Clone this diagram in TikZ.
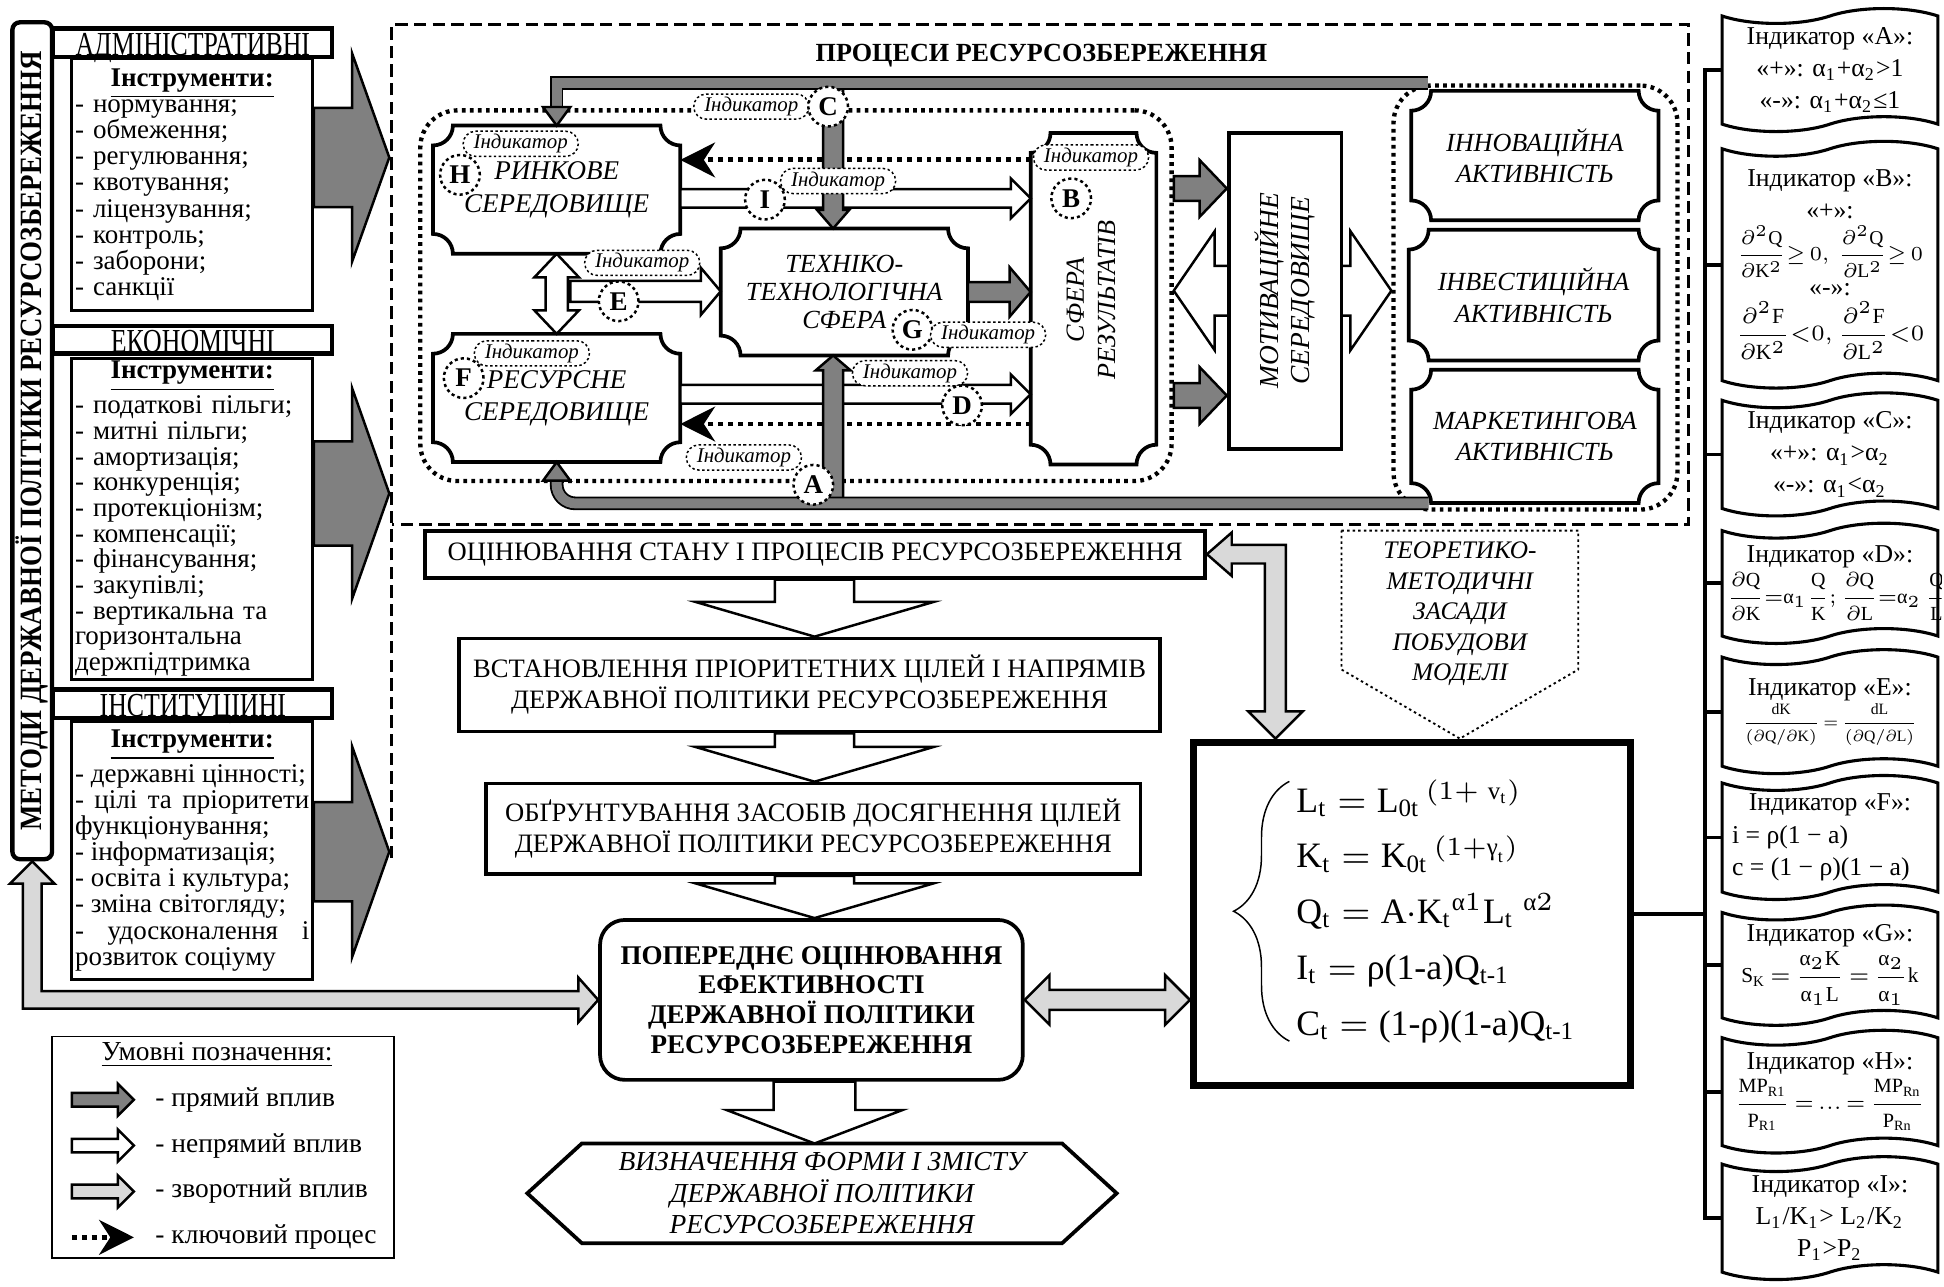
\documentclass[tikz,border=0pt]{standalone}
\usepackage{fontspec}
\usepackage{amsmath}
\usepackage{graphicx}
\setmainfont{Liberation Serif}
\newfontfamily\hdrfont[FakeStretch=0.77]{Liberation Serif}
\newfontfamily\condfont[FakeStretch=0.87]{Liberation Serif}
\usetikzlibrary{calc,arrows.meta,shapes.symbols,shapes.misc,decorations.pathreplacing}
\pgfdeclarelayer{background}
\pgfsetlayers{background,main}
\definecolor{directgray}{gray}{0.5}
\definecolor{feedgray}{gray}{0.85}
\newcommand{\fsz}[2]{\fontsize{#1}{#2}\selectfont}
\newcommand{\al}{\text{α}}
\newcommand{\fitw}[2]{\resizebox{#1}{!}{#2}}
% outline with concave corners round a named node
\newcommand{\plaque}[1]{
  \draw[plaqueline] let \p1=(#1.north west), \p2=(#1.south east) in
    (\x1,\y1-1.6mm) arc[start angle=-90,end angle=0,radius=1.6mm]
    -- (\x2-1.6mm,\y1) arc[start angle=180,end angle=270,radius=1.6mm]
    -- (\x2,\y2+1.6mm) arc[start angle=90,end angle=180,radius=1.6mm]
    -- (\x1+1.6mm,\y2) arc[start angle=0,end angle=90,radius=1.6mm] -- cycle;
}
% block arrow: [style]{from}{tip}{shaft half width}{head half width}{head length}
\newcommand{\blockarrow}[6][]{
  \coordinate (ba-s) at (#2);
  \coordinate (ba-e) at (#3);
  \coordinate (ba-h) at ($(ba-e)!#6!(ba-s)$);
  \draw[#1] ($(ba-s)!#4!90:(ba-e)$) -- ($(ba-h)!#4!-90:(ba-s)$) -- ($(ba-h)!#5!-90:(ba-s)$)
    -- (ba-e) -- ($(ba-h)!#5!90:(ba-s)$) -- ($(ba-h)!#4!90:(ba-s)$) -- ($(ba-s)!#4!-90:(ba-e)$) -- cycle;
}
\newcommand{\dblarrow}[6][]{
  \coordinate (da-a) at (#2);
  \coordinate (da-b) at (#3);
  \coordinate (da-ha) at ($(da-a)!#6!(da-b)$);
  \coordinate (da-hb) at ($(da-b)!#6!(da-a)$);
  \draw[#1] (da-a) -- ($(da-ha)!#5!90:(da-b)$) -- ($(da-ha)!#4!90:(da-b)$) -- ($(da-hb)!#4!-90:(da-a)$)
    -- ($(da-hb)!#5!-90:(da-a)$) -- (da-b) -- ($(da-hb)!#5!90:(da-a)$) -- ($(da-hb)!#4!90:(da-a)$)
    -- ($(da-ha)!#4!-90:(da-b)$) -- ($(da-ha)!#5!-90:(da-b)$) -- cycle;
}

\begin{document}
\begin{tikzpicture}[x=0.1mm,y=-0.1mm,
  plaqueline/.style={line width=0.3mm},
  plaquetext/.style={font=\itshape\fsz{6}{7.2},align=center,inner sep=0},
  listbox/.style={draw,line width=0.25mm,fill=white,text width=18.9mm,inner xsep=0.25mm,inner ysep=0.25mm,align=left,font=\fsz{6.2}{6}},
  hdrbox/.style={draw,line width=0.35mm,fill=white,minimum width=22.5mm,inner sep=0,text height=5.8pt,text depth=0pt,font=\hdrfont\fsz{7.7}{8}},
  darrow/.style={draw,line width=0.2mm,fill=directgray},
  warrow/.style={draw,line width=0.2mm,fill=white},
  farrow/.style={draw,line width=0.2mm,fill=feedgray},
  gframe/.style={draw=black,line width=0.15mm,double=directgray,double distance=0.8mm}]
\tikzstyle{keyline}=[line width=0.4mm,dash pattern=on 0.4mm off 0.4mm,-{Stealth[length=2.8mm,width=2.8mm,inset=0.9mm]}]
\tikzstyle{dotregion}=[draw,line width=0.35mm,dash pattern=on 0.3mm off 0.35mm,rounded corners=3mm]
\tikzstyle{circlbl}=[circle,draw,line width=0.2mm,dash pattern=on 0.25mm off 0.25mm,fill=white,minimum size=3.2mm,inner sep=0,font=\bfseries\fsz{6.2}{6.2}]
\tikzstyle{indlbl}=[rounded rectangle,draw,line width=0.12mm,dash pattern=on 0.2mm off 0.2mm,fill=white,inner xsep=0.5mm,inner ysep=0.25mm,font=\itshape\fsz{4.8}{5}]
\tikzstyle{flowbox}=[draw,line width=0.3mm,fill=white,align=center,inner sep=0,font=\fsz{6.1}{7.1}]
\tikzstyle{indbox}=[tape,draw,line width=0.25mm,fill=white,minimum width=17.4mm,tape bend height=1.2mm,align=center,inner sep=0.3mm,font=\fsz{5.9}{7.4}]
\useasboundingbox (0,0) rectangle (1568,1038);

% methods column
\node[draw,line width=0.35mm,rounded corners=0.6mm,minimum width=3.2mm,minimum height=67.5mm] (metody) at (26,355.5) {};
\node[rotate=90,font=\condfont\bfseries\fsz{7.1}{7}] (metodytitle) at (metody) {МЕТОДИ ДЕРЖАВНОЇ ПОЛІТИКИ РЕСУРСОЗБЕРЕЖЕННЯ};
\node[listbox,minimum height=20.3mm] (admlist) at (155,149) {{\centering\textbf{\underline{Інструменти:}}\par}- нормування;\\- обмеження;\\- регулювання;\\- квотування;\\- ліцензування;\\- контроль;\\- заборони;\\- санкції};
\node[listbox,minimum height=25.7mm,font=\fsz{6.2}{5.9}] (econlist) at (155,418.5) {{\centering\textbf{\underline{Інструменти:}}\par}- податкові пільги;\\- митні пільги;\\- амортизація;\\- конкуренція;\\- протекціонізм;\\- компенсації;\\- фінансування;\\- закупівлі;\\- вертикальна та\\горизонтальна\\держпідтримка};
\node[listbox,align=justify,minimum height=20.8mm] (instlist) at (155,686) {{\centering\textbf{\underline{Інструменти:}}\par}- державні цінності;\\- цілі та пріоритети\linebreak функціонування;\\- інформатизація;\\- освіта і культура;\\- зміна світогляду;\\- удосконалення і\linebreak розвиток соціуму};
\node[hdrbox,minimum height=2.3mm] (adm) at (155.5,34.5) {АДМІНІСТРАТИВНІ};
\node[hdrbox,minimum height=2.2mm] (econ) at (155.5,274) {ЕКОНОМІЧНІ};
\node[hdrbox,minimum height=2.3mm] (inst) at (155.5,567.5) {ІНСТИТУЦІЙНІ};

\coordinate (g1) at (314,127);
\coordinate (g2) at (314,398);
\coordinate (g3) at (314,687);
\blockarrow[darrow]{admlist.east |- g1}{g1}{4mm}{8.4mm}{3mm}
\blockarrow[darrow]{econlist.east |- g2}{g2}{4.2mm}{8.5mm}{3mm}
\blockarrow[darrow]{instlist.east |- g3}{g3}{4mm}{8.5mm}{3mm}

% resource saving processes
\draw[line width=0.22mm,dash pattern=on 1mm off 0.5mm] (316,692) -- (316,20) -- (1362,20) -- (1362,423) -- (316,423);
\node[font=\bfseries\fsz{6}{6}] (procesy) at (840,45) {ПРОЦЕСИ РЕСУРСОЗБЕРЕЖЕННЯ};
\node[dotregion,minimum width=60.6mm,minimum height=29.9mm] (sfery) at (642,238.5) {};
\node[dotregion,minimum width=22.9mm,minimum height=34.2mm] (aktivnist) at (1238.5,240) {};

\node[plaquetext,font=\itshape\fsz{6.2}{7.4},minimum width=19.8mm,minimum height=10.2mm] (rynok) at (449,153) {РИНКОВЕ\\СЕРЕДОВИЩЕ};
\node[plaquetext,font=\itshape\fsz{6.2}{7.4},minimum width=19.8mm,minimum height=10.2mm] (resursne) at (449,321) {РЕСУРСНЕ\\СЕРЕДОВИЩЕ};
\node[plaquetext,font=\itshape\fsz{6}{6.4},minimum width=19.8mm,minimum height=10.1mm] (tekhno) at (681,235.5) {ТЕХНІКО-\\ТЕХНОЛОГІЧНА\\СФЕРА};
\node[minimum width=10mm,minimum height=26.6mm] (sfera) at (882,241) {};
\node[plaquetext,rotate=90] (sferatext) at (880,242) {СФЕРА\\РЕЗУЛЬТАТІВ};
\node[plaquetext,minimum width=19.8mm,minimum height=10.3mm] (aktiv1) at (1238,125.5) {ІННОВАЦІЙНА\\АКТИВНІСТЬ};
\node[plaquetext,minimum width=20mm,minimum height=10.4mm] (aktiv2) at (1237,238) {ІНВЕСТИЦІЙНА\\АКТИВНІСТЬ};
\node[plaquetext,minimum width=19.8mm,minimum height=10.6mm] (aktiv3) at (1238,352) {МАРКЕТИНГОВА\\АКТИВНІСТЬ};
\foreach \pname in {rynok,resursne,tekhno,sfera,aktiv1,aktiv2,aktiv3} {
  \plaque{\pname}
}

\coordinate (ky1) at (0,129);
\coordinate (ky2) at (0,342);
\coordinate (iy) at (0,160);
\coordinate (dy) at (0,318);
\coordinate (ey) at (460,235);
\draw[keyline] (sfera.west |- ky1) -- (rynok.east |- ky1);
\draw[keyline] (sfera.west |- ky2) -- (resursne.east |- ky2);
\blockarrow[warrow]{rynok.east |- iy}{sfera.west |- iy}{0.75mm}{1.6mm}{1.6mm}
\blockarrow[warrow]{resursne.east |- dy}{sfera.west |- dy}{0.75mm}{1.6mm}{1.6mm}
\dblarrow[warrow]{rynok.south}{resursne.north}{0.9mm}{1.8mm}{1.9mm}
\blockarrow[warrow]{ey}{tekhno.west |- ey}{0.85mm}{1.9mm}{1.6mm}

\coordinate (cx) at (672,0);
\coordinate (topbar) at (1152,67);
\coordinate (botbar) at (1152,406);
\blockarrow[darrow]{cx |- topbar}{cx |- tekhno.north}{0.8mm}{1.3mm}{1.5mm}
\blockarrow[darrow]{cx |- botbar}{cx |- tekhno.south}{0.8mm}{1.4mm}{1.2mm}
\draw[gframe] (topbar) -- (topbar -| rynok.north) -- ($(rynok.north)+(0,-13)$);
\draw[darrow] ($(rynok.north)+(-11,-15)$) -- ($(rynok.north)+(11,-15)$) -- (rynok.north) -- cycle;
\draw[gframe,rounded corners=1.5mm] (botbar) -- (botbar -| resursne.south) -- ($(resursne.south)+(0,13)$);
\draw[darrow] ($(resursne.south)+(-11,15)$) -- ($(resursne.south)+(11,15)$) -- (resursne.south) -- cycle;
\blockarrow[darrow]{tekhno.east}{sfera.west |- tekhno.east}{0.8mm}{2mm}{1.7mm}

\coordinate (motivc) at (1036.5,234.5);
\dblarrow[warrow]{sfery.east |- motivc}{aktivnist.west |- motivc}{2mm}{4.8mm}{3.3mm}
\node[draw,line width=0.3mm,fill=white,minimum width=9.1mm,minimum height=25.5mm] (motiv) at (motivc) {};
\node[plaquetext,font=\itshape\fsz{6.3}{7.2},rotate=90] (motivtext) at (motiv) {МОТИВАЦІЙНЕ\\СЕРЕДОВИЩЕ};
\coordinate (m1) at (0,152);
\coordinate (m2) at (0,319);
\blockarrow[darrow]{sfery.east |- m1}{motiv.west |- m1}{1mm}{2.3mm}{2.2mm}
\blockarrow[darrow]{sfery.east |- m2}{motiv.west |- m2}{1mm}{2.3mm}{2.2mm}

% indicators on the scheme
\node[indlbl] (lbl-c) at (606,86) {Індикатор};
\node[circlbl] (circ-c) at (668,86) {C};
\node[indlbl] (lbl-h) at (420,116) {Індикатор};
\node[circlbl] (circ-h) at (371,141) {H};
\node[circlbl] (circ-i) at (617,161) {I};
\node[indlbl] (lbl-i) at (676,146) {Індикатор};
\node[indlbl] (lbl-b) at (880,127) {Індикатор};
\node[circlbl] (circ-b) at (864,160) {B};
\node[indlbl] (lbl-e) at (518,212) {Індикатор};
\node[circlbl] (circ-e) at (499,243) {E};
\node[circlbl] (circ-g) at (736,266) {G};
\node[indlbl] (lbl-g) at (797,270) {Індикатор};
\node[indlbl] (lbl-f) at (429,285) {Індикатор};
\node[circlbl] (circ-f) at (374,305) {F};
\node[indlbl] (lbl-d) at (734,301) {Індикатор};
\node[circlbl] (circ-d) at (776,327) {D};
\node[indlbl] (lbl-a) at (600,369) {Індикатор};
\node[circlbl] (circ-a) at (656,391) {A};

% policy steps
\node[flowbox,minimum width=62.9mm,minimum height=3.8mm] (ocinka) at (657.5,447) {ОЦІНЮВАННЯ СТАНУ І ПРОЦЕСІВ РЕСУРСОЗБЕРЕЖЕННЯ};
\node[flowbox,minimum width=56.5mm,minimum height=7.5mm] (vstan) at (653,552.5) {ВСТАНОВЛЕННЯ ПРІОРИТЕТНИХ ЦІЛЕЙ І НАПРЯМІВ\\ДЕРЖАВНОЇ ПОЛІТИКИ РЕСУРСОЗБЕРЕЖЕННЯ};
\node[flowbox,minimum width=52.8mm,minimum height=7.3mm] (obgr) at (656,668.5) {ОБҐРУНТУВАННЯ ЗАСОБІВ ДОСЯГНЕННЯ ЦІЛЕЙ\\ДЕРЖАВНОЇ ПОЛІТИКИ РЕСУРСОЗБЕРЕЖЕННЯ};
\node[flowbox,rounded corners=2mm,minimum width=34.1mm,minimum height=12.9mm,font=\bfseries\fsz{6.2}{6.8}] (poper) at (654.5,806.5) {ПОПЕРЕДНЄ ОЦІНЮВАННЯ\\ЕФЕКТИВНОСТІ\\ДЕРЖАВНОЇ ПОЛІТИКИ\\РЕСУРСОЗБЕРЕЖЕННЯ};
\node[align=center,font=\itshape\fsz{6.3}{7.2},minimum width=47.4mm,minimum height=7.9mm,inner sep=0] (vyzn) at (663,962.5) {ВИЗНАЧЕННЯ ФОРМИ І ЗМІСТУ\\ДЕРЖАВНОЇ ПОЛІТИКИ\\РЕСУРСОЗБЕРЕЖЕННЯ};
\draw[line width=0.3mm] (vyzn.west) -- ($(vyzn.north west)+(44,0)$) -- ($(vyzn.north east)+(-44,0)$) -- (vyzn.east)
  -- ($(vyzn.south east)+(-44,0)$) -- ($(vyzn.south west)+(44,0)$) -- cycle;
\coordinate (flow) at (657,0);
\blockarrow[warrow]{flow |- ocinka.south}{flow |- vstan.north}{3.2mm}{9.6mm}{2.8mm}
\blockarrow[warrow]{flow |- vstan.south}{flow |- obgr.north}{3.2mm}{9.6mm}{2.8mm}
\blockarrow[warrow]{flow |- obgr.south}{flow |- poper.north}{3.2mm}{9.6mm}{2.8mm}
\blockarrow[warrow]{flow |- poper.south}{flow |- vyzn.north}{3.3mm}{7.1mm}{2.7mm}

% model
\node[draw,line width=0.45mm,minimum width=35.4mm,minimum height=27.8mm] (model) at (1139,737) {};
\draw[line width=0.12mm] ($(model.north west)+(5,5)$) rectangle ($(model.south east)+(-5,-5)$);
\node[anchor=west,align=left,font=\fsz{8.2}{12.8},inner sep=0] (eqs) at (1045,735) {%
$\mathrm{L_t = L_{0t}}^{\,(1+\ \mathrm{v_t})}$\\
$\mathrm{K_t = K_{0t}}^{\,(1+\text{γ}_\mathrm{t})}$\\
$\mathrm{Q_t = A{\cdot}K_t}^{\text{α}1}\mathrm{L_t}^{\;\text{α}2}$\\
$\mathrm{I_t} = \text{ρ(1-a)}\mathrm{Q_{t\text{-}1}}$\\
$\mathrm{C_t} = \text{(1-ρ)(1-a)}\mathrm{Q_{t\text{-}1}}$};
\draw[line width=0.12mm,decorate,decoration={brace,amplitude=4.5mm}] ($(eqs.south west)+(-5,-2)$) -- ($(eqs.north west)+(-5,2)$);
\node[align=center,font=\itshape\fsz{5.8}{7}] (teor) at (1177.5,495) {ТЕОРЕТИКО-\\МЕТОДИЧНІ\\ЗАСАДИ\\ПОБУДОВИ\\МОДЕЛІ};
\draw[line width=0.15mm,dash pattern=on 0.2mm off 0.25mm] ($(teor.center)+(-95.5,-67)$) -- ($(teor.center)+(95.5,-67)$)
  -- ($(teor.center)+(95.5,45)$) -- (model.north -| teor.center) -- ($(teor.center)+(-95.5,45)$) -- cycle;

% feedback
\coordinate (fbc) at (metody.south |- poper.west);
\draw[farrow] (metody.south) -- ($(metody.south)+(18,18)$) -- ($(metody.south)+(7.5,18)$) -- ($(fbc)+(7.5,-7)$)
  -- ($(poper.west)+(-16,-7)$) -- ($(poper.west)+(-16,-18)$) -- (poper.west) -- ($(poper.west)+(-16,18)$)
  -- ($(poper.west)+(-16,7)$) -- ($(fbc)+(-7.5,7)$) -- ($(metody.south)+(-7.5,18)$) -- ($(metody.south)+(-18,18)$) -- cycle;
\coordinate (fbt) at ($(model.north west)+(69,0)$);
\coordinate (fbk) at (fbt |- ocinka.east);
\draw[farrow] (ocinka.east) -- ($(ocinka.east)+(20,-17.5)$) -- ($(ocinka.east)+(20,-7.5)$) -- ($(fbk)+(8.5,-7.5)$)
  -- ($(fbt)+(8.5,-22)$) -- ($(fbt)+(22,-22)$) -- (fbt) -- ($(fbt)+(-22,-22)$) -- ($(fbt)+(-8.5,-22)$)
  -- ($(fbk)+(-8.5,7.5)$) -- ($(ocinka.east)+(20,7.5)$) -- ($(ocinka.east)+(20,17.5)$) -- cycle;
\dblarrow[farrow]{poper.east}{model.west |- poper.east}{0.8mm}{2mm}{2mm}

% indicator definitions
\node[indbox,minimum height=9.7mm] (ind-a) at (1476,56.5) {Індикатор «A»:\\«+»: α\textsubscript{1}+α\textsubscript{2}>1\\«-»: α\textsubscript{1}+α\textsubscript{2}≤1};
\node[indbox,minimum height=19.9mm] (ind-b) at (1476,213.5) {Індикатор «B»:\\«+»:\\[0.5pt]
  \fitw{15mm}{$\dfrac{\partial^2\mathrm{Q}}{\partial\mathrm{K}^2}{\ge}\,0,\,\dfrac{\partial^2\mathrm{Q}}{\partial\mathrm{L}^2}{\ge}\,0$}\\[0.5pt]«-»:\\[0.5pt]
  \fitw{15.2mm}{$\dfrac{\partial^2\mathrm{F}}{\partial\mathrm{K}^2}{<}0,\dfrac{\partial^2\mathrm{F}}{\partial\mathrm{L}^2}{<}0$}};
\node[indbox,minimum height=9.5mm] (ind-c) at (1476,366.5) {Індикатор «C»:\\«+»: α\textsubscript{1}>α\textsubscript{2}\\«-»: α\textsubscript{1}<α\textsubscript{2}};
\begin{scope}
\clip (1380,400) rectangle (1566,540);
\node[indbox,minimum height=9.7mm] (ind-d) at (1476,470.5) {Індикатор «D»:\\\makebox[16.6mm][l]{\fitw{17.8mm}{$\dfrac{\partial\mathrm{Q}}{\partial\mathrm{K}}{=}\al_1\dfrac{\mathrm{Q}}{\mathrm{K}};\dfrac{\partial\mathrm{Q}}{\partial\mathrm{L}}{=}\al_2\,\dfrac{\mathrm{Q}}{\mathrm{L}}$}}};
\end{scope}
\node[indbox,minimum height=10mm] (ind-e) at (1476,574) {Індикатор «E»:\\\fitw{14.1mm}{$\dfrac{\mathrm{dK}}{(\partial\mathrm{Q}/\partial\mathrm{K})}\,{=}\,\dfrac{\mathrm{dL}}{(\partial\mathrm{Q}/\partial\mathrm{L})}$}};
\node[indbox,minimum height=9.7mm] (ind-f) at (1476,675.5) {Індикатор «F»:\\\makebox[15.8mm][l]{i = ρ(1 − a)}\\\makebox[15.8mm][l]{c = (1 − ρ)(1 − a)}};
\node[indbox,minimum height=9.7mm] (ind-g) at (1476,778.5) {Індикатор «G»:\\\fitw{14.3mm}{$\mathrm{S_K}\,{=}\,\dfrac{\al_2\mathrm{K}}{\al_1\mathrm{L}}\,{=}\,\dfrac{\al_2}{\al_1}\mathrm{k}$}};
\node[indbox,minimum height=9.9mm] (ind-h) at (1476,880.5) {Індикатор «H»:\\\fitw{15.4mm}{$\dfrac{\mathrm{MP_{R1}}}{\mathrm{P_{R1}}}\,{=}\,...\,{=}\,\dfrac{\mathrm{MP_{Rn}}}{\mathrm{P_{Rn}}}$}};
\node[indbox,minimum height=9.9mm] (ind-i) at (1476,982.5) {Індикатор «I»:\\L\textsubscript{1}/K\textsubscript{1}> L\textsubscript{2}/K\textsubscript{2}\\P\textsubscript{1}>P\textsubscript{2}};
\coordinate (trunk) at (1375,0);
\draw[line width=0.3mm] (ind-a.west) -- (ind-a.west -| trunk) -- (ind-i.west -| trunk) -- (ind-i.west);
\foreach \ind in {b,c,d,e,f,g,h}
  \draw[line width=0.3mm] (ind-\ind.west -| trunk) -- (ind-\ind.west);
\draw[line width=0.3mm] (model.east) -- (model.east -| trunk);

% legend
\node[draw,line width=0.15mm,minimum width=27.6mm,minimum height=17.9mm] (legend) at (180,925.5) {};
\node[font=\fsz{6.3}{7}] (legendtitle) at (175,851) {\underline{Умовні позначення:}};
\coordinate (lg1) at (58,887);
\coordinate (lg2) at (58,924);
\coordinate (lg3) at (58,961);
\coordinate (lg4) at (58,998);
\blockarrow[darrow]{lg1}{$(lg1)+(50,0)$}{0.55mm}{1.3mm}{1.3mm}
\blockarrow[warrow]{lg2}{$(lg2)+(50,0)$}{0.55mm}{1.3mm}{1.3mm}
\blockarrow[farrow]{lg3}{$(lg3)+(50,0)$}{0.55mm}{1.3mm}{1.3mm}
\draw[keyline] (lg4) -- ($(lg4)+(50,0)$);
\node[anchor=west,font=\fsz{6.3}{7}] (lgtext1) at (113,887) {- прямий вплив};
\node[anchor=west,font=\fsz{6.3}{7}] (lgtext2) at (113,924) {- непрямий вплив};
\node[anchor=west,font=\fsz{6.3}{7}] (lgtext3) at (113,961) {- зворотний вплив};
\node[anchor=west,font=\fsz{6.3}{7}] (lgtext4) at (113,998) {- ключовий процес};
\end{tikzpicture}
\end{document}
